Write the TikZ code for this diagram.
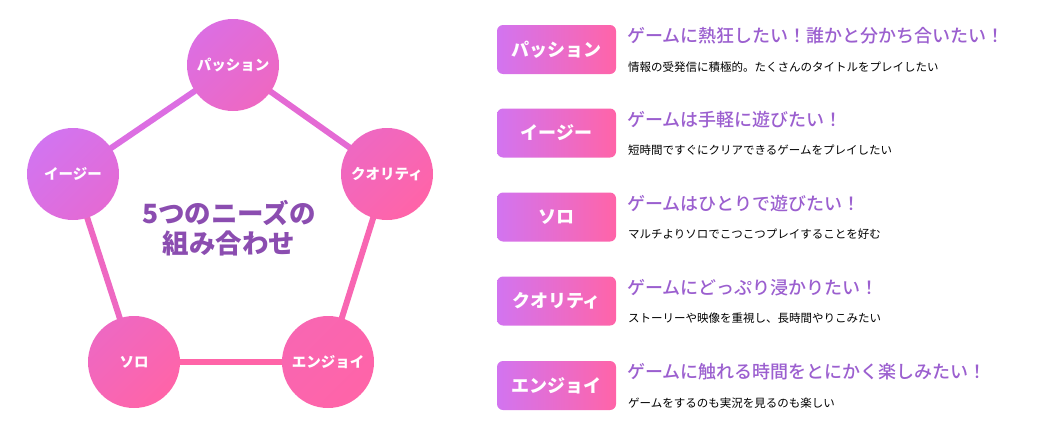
\documentclass[tikz,border=0pt]{standalone}
\usepackage{fontspec}
\setmainfont{Noto Sans CJK JP}
\newfontfamily\medfont{Noto Sans CJK JP Medium}
\definecolor{pA}{HTML}{D274F0}
\definecolor{pB}{HTML}{DC6EE2}
\definecolor{pC}{HTML}{E46AD4}
\definecolor{pD}{HTML}{EE68C2}
\definecolor{pE}{HTML}{F866B2}
\definecolor{pF}{HTML}{FF64A8}
\definecolor{ttl}{HTML}{9B5FCF}
\definecolor{ctr}{HTML}{8B4DB0}
\tikzset{
  circ/.style={circle, minimum size=92pt, inner sep=0pt, text=white,
    font=\bfseries\fontsize{14.5}{14.5}\selectfont},
  edge/.style={line width=6pt},
  tag/.style={rectangle, rounded corners=6pt, minimum width=119pt, minimum height=49pt,
    inner sep=0pt, left color=pA, right color=pF, text=white,
    font=\bfseries\fontsize{18}{18}\selectfont},
  ttlt/.style={anchor=west, inner sep=0pt, text=ttl, font=\medfont\fontsize{18}{18}\selectfont},
  subt/.style={anchor=west, inner sep=0pt, text=black, font=\fontsize{11.5}{11.5}\selectfont},
}
\begin{document}
\begin{tikzpicture}[x=1pt,y=-1pt]
\useasboundingbox (0,0) rectangle (1038,439);
% circle positions
\coordinate (cP) at (233,65);
\coordinate (cE) at (73,174);
\coordinate (cQ) at (387,174);
\coordinate (cS) at (134,362);
\coordinate (cJ) at (328,362);
% edges
\draw[edge, color=pC] (cP) -- (cQ);
\draw[edge, color=pE] (cQ) -- (cJ);
\draw[edge, color=pF] (cJ) -- (cS);
\draw[edge, color=pD] (cS) -- (cE);
\draw[edge, color=pB] (cE) -- (cP);
% circles
\node[circ, top color=pB, bottom color=pD, shading angle=45] (nP) at (cP) {パッション};
\node[circ, top color=pA, bottom color=pC, shading angle=45] (nE) at (cE) {イージー};
\node[circ, top color=pD, bottom color=pF, shading angle=45] (nQ) at (cQ) {クオリティ};
\node[circ, top color=pD, bottom color=pF, shading angle=45] (nS) at (cS) {ソロ};
\node[circ, top color=pE, bottom color=pF, shading angle=45] (nJ) at (cJ) {エンジョイ};
% center text
\node[text=ctr, font=\bfseries\fontsize{26.5}{30}\selectfont, align=center] (center) at (229,228) {5つのニーズの\\組み合わせ};
% right list
\node[tag] (t1) at (556.5,49.5) {パッション};
\node[ttlt] (h1) at (627,36) {ゲームに熱狂したい！誰かと分かち合いたい！};
\node[subt] (s1) at (628,67) {情報の受発信に積極的。たくさんのタイトルをプレイしたい};
\node[tag] (t2) at (556.5,133) {イージー};
\node[ttlt] (h2) at (627,119.5) {ゲームは手軽に遊びたい！};
\node[subt] (s2) at (628,150.5) {短時間ですぐにクリアできるゲームをプレイしたい};
\node[tag] (t3) at (556.5,217) {ソロ};
\node[ttlt] (h3) at (627,203.5) {ゲームはひとりで遊びたい！};
\node[subt] (s3) at (628,234.5) {マルチよりソロでこつこつプレイすることを好む};
\node[tag] (t4) at (556.5,301) {クオリティ};
\node[ttlt] (h4) at (627,287.5) {ゲームにどっぷり浸かりたい！};
\node[subt] (s4) at (628,318.5) {ストーリーや映像を重視し、長時間やりこみたい};
\node[tag] (t5) at (556.5,385.5) {エンジョイ};
\node[ttlt] (h5) at (627,372) {ゲームに触れる時間をとにかく楽しみたい！};
\node[subt] (s5) at (628,403) {ゲームをするのも実況を見るのも楽しい};
\end{tikzpicture}
\end{document}
